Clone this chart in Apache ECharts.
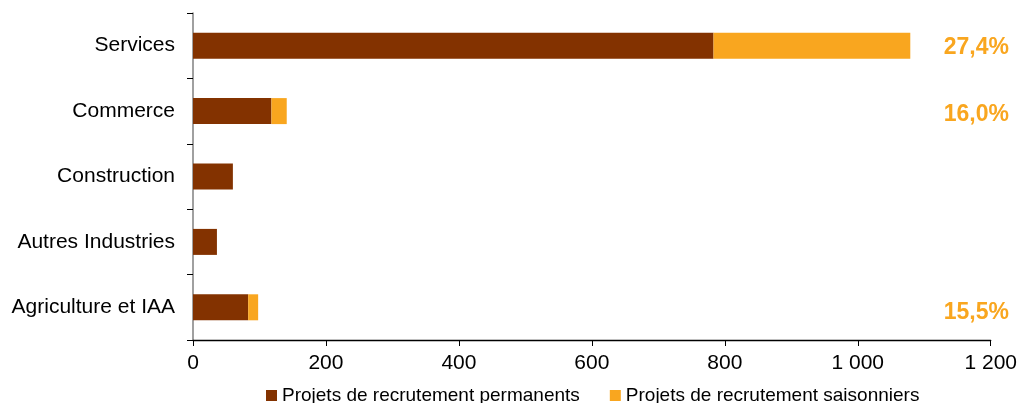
<!DOCTYPE html>
<html>
<head>
<meta charset="utf-8">
<script src="https://cdn.jsdelivr.net/npm/echarts@6/dist/echarts.min.js"></script>
<style>html,body{margin:0;padding:0;background:#fff;}#c{width:1020px;height:403px;}</style>
</head>
<body>
<div id="c"></div>
<script>
var categories = ['Services', 'Commerce', 'Construction', 'Autres Industries', 'Agriculture et IAA'];
var permanents = [783, 118, 60, 36, 83];
var saisonniers = [296, 23, 0, 0, 15];
var pctLabels = ['27,4%', '16,0%', '', '', '15,5%'];
var xTicks = [0, 200, 400, 600, 800, 1000, 1200];
var seriesNames = ['Projets de recrutement permanents', 'Projets de recrutement saisonniers'];

var FONT = '"Liberation Sans", Arial, sans-serif';
var chart = echarts.init(document.getElementById('c'), null, {renderer: 'canvas'});
var option = {
  animation: false,
  backgroundColor: '#ffffff',
  textStyle: {fontFamily: FONT},
  grid: {left: 193, right: 27, top: 13, bottom: 63, containLabel: false},
  legend: {
    left: 261, top: 381,
    icon: 'rect', itemWidth: 11, itemHeight: 11, itemGap: 30,
    textStyle: {fontFamily: FONT, fontSize: 19, color: '#000'},
    data: seriesNames
  },
  xAxis: {
    type: 'value', min: xTicks[0], max: xTicks[xTicks.length - 1], interval: 200,
    axisLine: {show: true, lineStyle: {color: '#000', width: 1.3}},
    axisTick: {show: true, length: 6, lineStyle: {color: '#000'}},
    splitLine: {show: false},
    axisLabel: {
      fontFamily: FONT, fontSize: 21, color: '#000', margin: 13,
      formatter: function (v) { return String(v).replace(/\B(?=(\d{3})+(?!\d))/g, ' '); }
    }
  },
  yAxis: {
    type: 'category', inverse: true, data: categories,
    axisLine: {show: true, lineStyle: {color: '#808080', width: 1.5}},
    axisTick: {show: true, length: 6, lineStyle: {color: '#000'}},
    axisLabel: {fontFamily: FONT, fontSize: 21, color: '#000', margin: 18}
  },
  series: [
    {name: seriesNames[0], type: 'bar', stack: 't', barWidth: 26, data: permanents,
     itemStyle: {color: '#833200'}},
    {name: seriesNames[1], type: 'bar', stack: 't', barWidth: 26, data: saisonniers,
     itemStyle: {color: '#F9A61F'}}
  ]
};
chart.setOption(option);

var offs = [2, 4, 0, 0, 6];
var g = [];
for (var i = 0; i < categories.length; i++) {
  if (!pctLabels[i]) continue;
  var y = chart.convertToPixel({yAxisIndex: 0}, categories[i]);
  g.push({
    type: 'text', right: 11, top: y + offs[i] - 12,
    style: {text: pctLabels[i], fill: '#F9A61F', font: 'bold 23px ' + FONT, textAlign: 'right'}
  });
}
chart.setOption({graphic: g});
</script>
</body>
</html>
